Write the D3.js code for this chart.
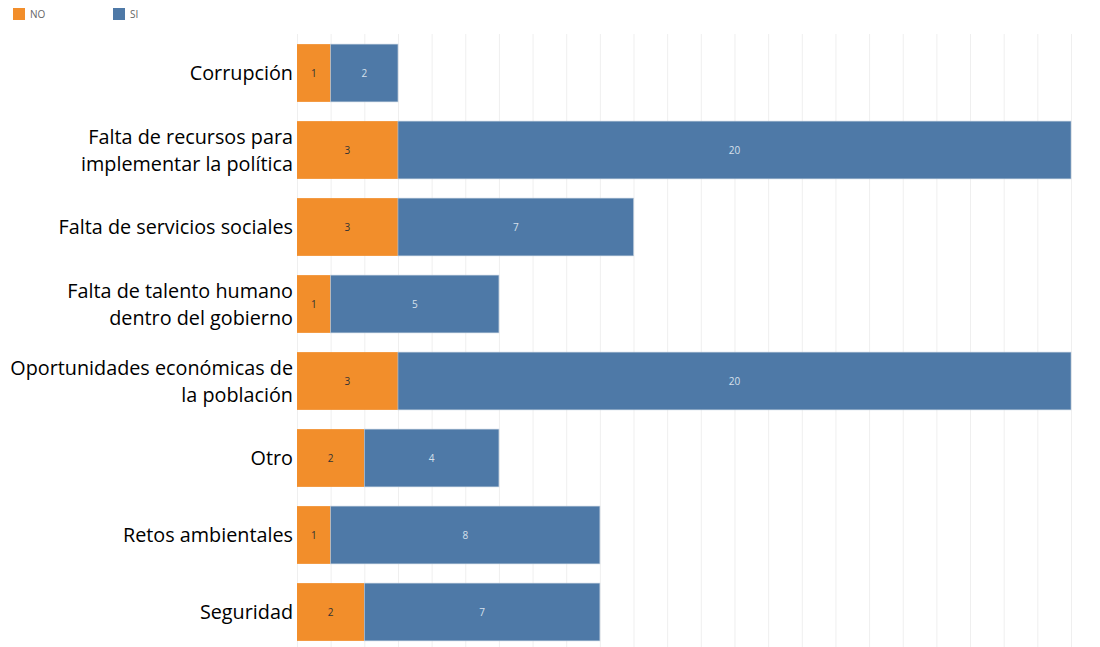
<!DOCTYPE html>
<html>
<head>
<meta charset="utf-8">
<script src="https://cdn.jsdelivr.net/npm/d3@7"></script>
<style>
  body { margin: 0; background: #fff; }
  svg { display: block; }
</style>
</head>
<body>
<div id="chart"></div>
<script>
var categories = [
    ["Corrupción"],
    ["Falta de recursos para", "implementar la política"],
    ["Falta de servicios sociales"],
    ["Falta de talento humano", "dentro del gobierno"],
    ["Oportunidades económicas de", "la población"],
    ["Otro"],
    ["Retos ambientales"],
    ["Seguridad"]
];
var noValues = [1, 3, 3, 1, 3, 2, 1, 2];
var siValues = [2, 20, 7, 5, 20, 4, 8, 7];
var seriesNames = ["NO", "SI"];
var seriesColors = ["#f28e2b", "#4e79a7"];

var width = 1100, height = 647;
var svg = d3.select("#chart").append("svg")
    .attr("width", width)
    .attr("height", height);

var x = d3.scaleLinear().domain([0, 23]).range([297, 1071]);
var y = d3.scaleBand()
    .domain(d3.range(categories.length))
    .range([34.5, 650.5])
    .paddingInner(0.25)
    .paddingOuter(0.125);

// grid
svg.append("g")
    .selectAll("line")
    .data(d3.range(0, 24))
    .enter().append("line")
    .attr("x1", d => x(d) + 0.5)
    .attr("x2", d => x(d) + 0.5)
    .attr("y1", 34)
    .attr("y2", height)
    .attr("stroke", "#efefef")
    .attr("stroke-width", 1);

// legend
var legend = svg.append("g");
seriesNames.forEach(function(name, i) {
    var lg = legend.append("g").attr("transform", "translate(" + (13 + i * 100) + ",8)");
    lg.append("rect").attr("width", 12).attr("height", 12).attr("fill", seriesColors[i]);
    lg.append("text")
        .attr("x", 17)
        .attr("y", 10)
        .attr("font-family", "Open Sans, sans-serif")
        .attr("font-size", 10)
        .attr("fill", "#666")
        .text(name);
});

// bars
var rows = svg.append("g")
    .selectAll("g")
    .data(categories.map((c, i) => ({ label: c, no: noValues[i], si: siValues[i], i: i })))
    .enter().append("g");

rows.append("rect")
    .attr("x", x(0))
    .attr("y", d => y(d.i))
    .attr("width", d => x(d.no) - x(0))
    .attr("height", y.bandwidth())
    .attr("fill", seriesColors[0]);

rows.append("rect")
    .attr("x", d => x(d.no))
    .attr("y", d => y(d.i))
    .attr("width", d => x(d.no + d.si) - x(d.no))
    .attr("height", y.bandwidth())
    .attr("fill", seriesColors[1])
    .attr("stroke", "#b8c8da")
    .attr("stroke-width", 0.6);

rows.append("text")
    .attr("x", d => (x(0) + x(d.no)) / 2)
    .attr("y", d => y(d.i) + y.bandwidth() / 2 + 4)
    .attr("text-anchor", "middle")
    .attr("font-family", "Open Sans, sans-serif")
    .attr("font-size", 10)
    .attr("fill", "#333")
    .text(d => d.no);

rows.append("text")
    .attr("x", d => (x(d.no) + x(d.no + d.si)) / 2)
    .attr("y", d => y(d.i) + y.bandwidth() / 2 + 4)
    .attr("text-anchor", "middle")
    .attr("font-family", "Open Sans, sans-serif")
    .attr("font-size", 10)
    .attr("fill", "#d6e0ec")
    .text(d => d.si);

// category labels
rows.append("text")
    .attr("text-anchor", "end")
    .attr("font-family", "Open Sans, sans-serif")
    .attr("font-size", 19.8)
    .attr("fill", "#000")
    .each(function(d) {
        var t = d3.select(this);
        var n = d.label.length;
        var cy = y(d.i) + y.bandwidth() / 2;
        d.label.forEach(function(line, k) {
            t.append("tspan")
                .attr("x", 293)
                .attr("y", cy + 7 + (k - (n - 1) / 2) * 27)
                .text(line);
        });
    });
</script>
</body>
</html>
